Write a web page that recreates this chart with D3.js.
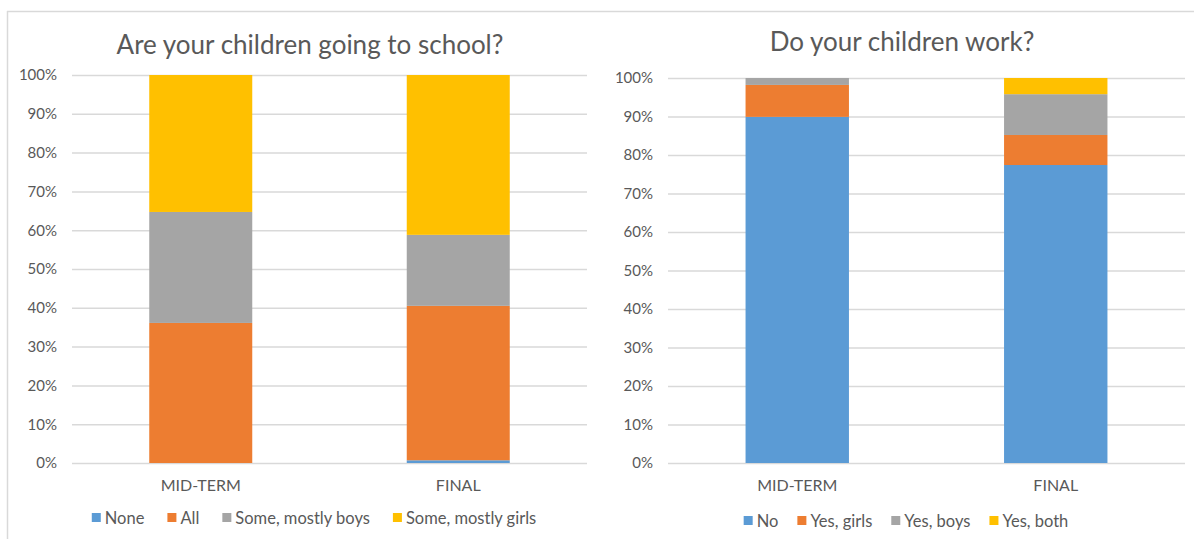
<!DOCTYPE html>
<html>
<head>
<meta charset="utf-8">
<script src="https://cdn.jsdelivr.net/npm/d3@7"></script>
<style>
  html, body { margin: 0; padding: 0; background: #fff; }
  svg { display: block; }
  text { font-family: Lato, "Open Sans", sans-serif; fill: #595959; }
</style>
</head>
<body>
<svg id="chart" width="1194" height="539"></svg>
<script>
// Survey periods shown on both charts
const categories = ["MID-TERM", "FINAL"];

// "Are your children going to school?" — percent of respondents
const schoolKeys = ["None", "All", "Some, mostly boys", "Some, mostly girls"];
const schoolNone = [0, 0.7];
const schoolAll = [36.1, 39.8];
const schoolMostlyBoys = [28.6, 18.3];
const schoolMostlyGirls = [35.3, 41.2];

// "Do your children work?" — percent of respondents
const workKeys = ["No", "Yes, girls", "Yes, boys", "Yes, both"];
const workNo = [89.9, 77.4];
const workGirls = [8.3, 7.8];
const workBoys = [1.8, 10.6];
const workBoth = [0, 4.2];

const tickValues = [0, 10, 20, 30, 40, 50, 60, 70, 80, 90, 100];
const palette = ["#5B9BD5", "#ED7D31", "#A5A5A5", "#FFC000"];

const svg = d3.select("#chart");

// Outer frame (left and top edges)
svg.append("line").attr("x1", 7.5).attr("x2", 7.5).attr("y1", 11).attr("y2", 539)
  .attr("stroke", "#d9d9d9").attr("stroke-width", 1.5);
svg.append("line").attr("x1", 7).attr("x2", 1194).attr("y1", 11.5).attr("y2", 11.5)
  .attr("stroke", "#d9d9d9").attr("stroke-width", 1.5);

function buildRows(keys, seriesArrays) {
  return categories.map((c, i) => {
    const row = { category: c };
    keys.forEach((k, j) => { row[k] = seriesArrays[j][i]; });
    return row;
  });
}

function drawChart(cfg) {
  const g = svg.append("g");
  const rows = buildRows(cfg.keys, cfg.series);
  const stacked = d3.stack().keys(cfg.keys)(rows);

  const x = d3.scaleBand().domain(categories)
    .range([cfg.left, cfg.right]).paddingInner(0.6).paddingOuter(0.3);
  const y = d3.scaleLinear().domain([0, 100]).range([cfg.bottom, cfg.top]);
  const color = d3.scaleOrdinal().domain(cfg.keys).range(palette);

  // Title
  g.append("text").attr("x", cfg.titleX).attr("y", cfg.titleY)
    .attr("text-anchor", "middle").style("font-size", "26px")
    .text(cfg.title);

  // Gridlines + percent labels
  const yAxis = d3.axisLeft(y).tickValues(tickValues)
    .tickSize(-(cfg.right - cfg.left)).tickPadding(15)
    .tickFormat(d => d + "%");
  const ag = g.append("g").attr("transform", `translate(${cfg.left},0)`).call(yAxis);
  ag.select(".domain").remove();
  ag.selectAll(".tick line").attr("stroke", "#d9d9d9").attr("stroke-width", 1.5);
  ag.selectAll(".tick text").style("font-size", "15px").attr("fill", "#595959")
    .style("font-family", "Lato, sans-serif");

  // Stacked bars
  g.append("g").selectAll("g").data(stacked).join("g")
    .attr("fill", d => color(d.key))
    .selectAll("rect").data(d => d).join("rect")
    .attr("x", d => x(d.data.category))
    .attr("width", x.bandwidth())
    .attr("y", d => y(d[1]))
    .attr("height", d => y(d[0]) - y(d[1]));

  // Category labels
  const xAxis = d3.axisBottom(x).tickSize(0).tickPadding(cfg.catPad);
  const xg = g.append("g").attr("transform", `translate(0,${cfg.bottom})`).call(xAxis);
  xg.select(".domain").remove();
  xg.selectAll(".tick text").style("font-size", "16px").attr("fill", "#595959")
    .style("font-family", "Lato, sans-serif");

  // Legend, centered under the plot
  const lg = g.append("g");
  const items = lg.selectAll("g").data(cfg.keys).join("g");
  items.append("rect").attr("width", 9).attr("height", 9).attr("y", -5)
    .attr("fill", d => color(d));
  items.append("text").attr("x", 13).attr("dy", "0.35em")
    .style("font-size", "16.5px").text(d => d);
  let offset = 0;
  items.each(function () {
    const w = 13 + this.querySelector("text").getComputedTextLength();
    d3.select(this).attr("transform", `translate(${offset},0)`);
    offset += w + cfg.legendGap;
  });
  const total = offset - cfg.legendGap;
  lg.attr("transform", `translate(${cfg.legendX - total / 2},${cfg.legendY})`);
}

drawChart({
  title: "Are your children going to school?",
  keys: schoolKeys,
  series: [schoolNone, schoolAll, schoolMostlyBoys, schoolMostlyGirls],
  left: 72, right: 587, top: 75, bottom: 463,
  titleX: 310, titleY: 54, catPad: 17,
  legendX: 314, legendY: 518, legendGap: 23
});

drawChart({
  title: "Do your children work?",
  keys: workKeys,
  series: [workNo, workGirls, workBoys, workBoth],
  left: 668, right: 1185, top: 78, bottom: 463,
  titleX: 902, titleY: 51, catPad: 17,
  legendX: 906, legendY: 521, legendGap: 19
});
</script>
</body>
</html>
